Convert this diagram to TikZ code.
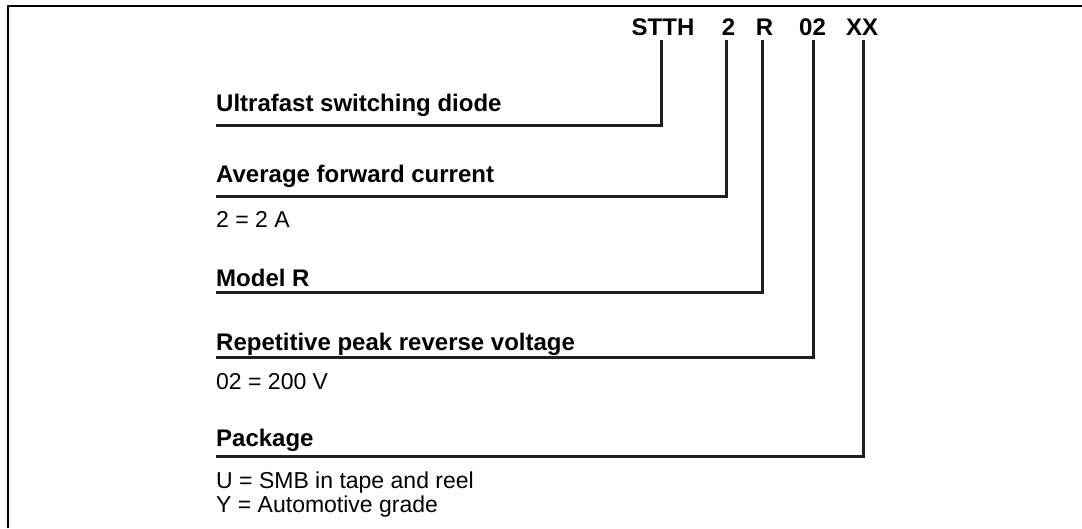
\documentclass[tikz,border=0pt]{standalone}
\usepackage{fontspec}
\setmainfont{Liberation Sans}
\usetikzlibrary{positioning}
\tikzset{
  code/.style={font=\fontsize{24}{28}\selectfont\bfseries, inner sep=0pt, anchor=base},
  head/.style={font=\fontsize{24}{28}\selectfont\bfseries, inner sep=0pt, anchor=base west},
  note/.style={font=\fontsize{23}{26}\selectfont, inner sep=0pt, anchor=base west},
  lead/.style={line width=3pt, color=black!88},
}

\begin{document}
\begin{tikzpicture}[x=1pt,y=1pt]
\useasboundingbox (0,0) rectangle (1082,528);
% frame
\draw[line width=2pt] (8,0) -- (8,522) -- (1082,522);
% part number
\node[code] (stth) at (663,492) {STTH};
\node[code] (cur) at (728.5,492) {2};
\node[code] (mod) at (764.5,492) {R};
\node[code] (volt) at (812.5,492) {02};
\node[code] (pack) at (862,492) {XX};
% headings
\node[head] (ultra) at (216,416) {Ultrafast switching diode};
\node[head] (avg) at (216,345.5) {Average forward current};
\node[head] (model) at (216,241) {Model R};
\node[head] (rep) at (216,177) {Repetitive peak reverse voltage};
\node[head] (pkg) at (216,82) {Package};
% notes
\node[note] (avgnote) at (216,300) {2 = 2 A};
\node[note] (repnote) at (216,139) {02 = 200 V};
\node[note] (pkgnote) at (216,40) {U = SMB in tape and reel};
\node[note] (pkgnote2) at (216,16) {Y = Automotive grade};
% line ends
\coordinate (ultra-l) at (216,402.5);
\coordinate (avg-l) at (216,331.5);
\coordinate (model-l) at (216,235);
\coordinate (rep-l) at (216,170);
\coordinate (pkg-l) at (216,72);
% leads
\draw[lead] ([xshift=-1.5pt,yshift=-4pt]stth.south) |- (ultra-l);
\draw[lead] ([xshift=-2pt,yshift=-4pt]cur.south) |- (avg-l);
\draw[lead] ([xshift=-2pt,yshift=-4pt]mod.south) |- (model-l);
\draw[lead] ([xshift=1pt,yshift=-4pt]volt.south) |- (rep-l);
\draw[lead] ([xshift=1.5pt,yshift=-4pt]pack.south) |- (pkg-l);
\end{tikzpicture}
\end{document}
